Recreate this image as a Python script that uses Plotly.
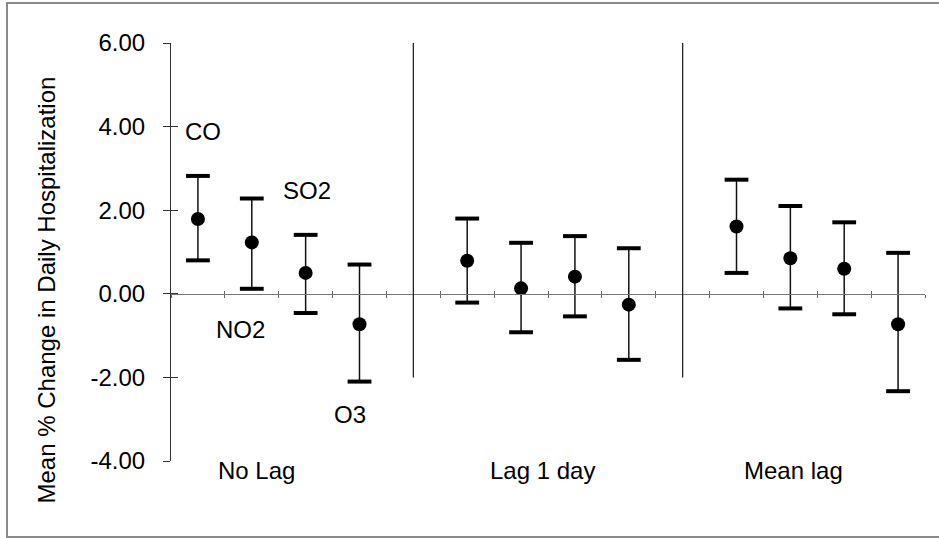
import plotly.graph_objects as go

# ---------------- data ----------------
groups = ["No Lag", "Lag 1 day", "Mean lag"]
pollutants = ["CO", "NO2", "SO2", "O3"]

mean_nolag = [1.79, 1.23, 0.50, -0.73]
upper_nolag = [2.82, 2.28, 1.41, 0.70]
lower_nolag = [0.80, 0.12, -0.46, -2.10]

mean_lag1 = [0.79, 0.13, 0.41, -0.26]
upper_lag1 = [1.80, 1.22, 1.38, 1.09]
lower_lag1 = [-0.21, -0.92, -0.54, -1.58]

mean_meanlag = [1.61, 0.85, 0.60, -0.73]
upper_meanlag = [2.73, 2.10, 1.71, 0.98]
lower_meanlag = [0.50, -0.35, -0.49, -2.33]

y_tickvals = [-4, -2, 0, 2, 4, 6]
y_ticktext = ["-4.00", "-2.00", "0.00", "2.00", "4.00", "6.00"]

# ---------------- layout helpers ----------------
W, H = 939, 538
ML, MR, MT, MB = 171, 14, 43, 77
PW, PH = W - ML - MR, H - MT - MB
YMIN, YMAX = -4, 6
XMIN, XMAX = 0, 14
slot = len(pollutants) + 1

x_pos = [g * slot + p + 0.5 for g in range(len(groups)) for p in range(len(pollutants))]
means = mean_nolag + mean_lag1 + mean_meanlag
uppers = upper_nolag + upper_lag1 + upper_meanlag
lowers = lower_nolag + lower_lag1 + lower_meanlag
dividers = [g * slot - 0.5 for g in range(1, len(groups))]


def px_to_paper_x(px):
    return (px - ML) / PW


def px_to_paper_y(py):
    return (H - MB - py) / PH


def data_to_paper_x(x):
    return (x - XMIN) / (XMAX - XMIN)


def data_to_paper_y(y):
    return (y - YMIN) / (YMAX - YMIN)


FONT = "Liberation Sans, Arial, Helvetica, sans-serif"
FS = 24

fig = go.Figure()

# error stems + dots
fig.add_trace(go.Scatter(
    x=x_pos, y=means, mode="markers",
    marker=dict(symbol="circle", size=14, color="black"),
    error_y=dict(type="data", symmetric=False,
                 array=[u - m for u, m in zip(uppers, means)],
                 arrayminus=[m - l for m, l in zip(means, lowers)],
                 thickness=1.5, width=0, color="#111111"),
    showlegend=False, hoverinfo="skip", cliponaxis=False,
))

# thick caps
fig.add_trace(go.Scatter(
    x=x_pos + x_pos, y=uppers + lowers, mode="markers",
    marker=dict(symbol="line-ew", size=17, line=dict(width=4, color="black")),
    showlegend=False, hoverinfo="skip", cliponaxis=False,
))

# overlay axis holder (for crossing ticks)
fig.add_trace(go.Scatter(x=[XMIN], y=[YMIN], xaxis="x2", yaxis="y2", mode="markers",
                         marker=dict(opacity=0), showlegend=False, hoverinfo="skip"))

zero_pos = (0 - YMIN) / (YMAX - YMIN)

axis_common_x = dict(range=[XMIN, XMAX], tick0=0, dtick=1, showgrid=False, zeroline=False,
                     showticklabels=False, tickcolor="#666666", tickwidth=1, ticklen=3,
                     anchor="free", position=zero_pos)
fig.update_layout(
    width=W, height=H,
    margin=dict(l=ML, r=MR, t=MT, b=MB),
    paper_bgcolor="white", plot_bgcolor="white",
    font=dict(family=FONT, color="black", size=FS),
    xaxis=dict(**axis_common_x, showline=True, linecolor="#777777", linewidth=1, ticks="outside"),
    xaxis2=dict(**axis_common_x, overlaying="x", showline=False, ticks="inside"),
    yaxis=dict(range=[YMIN, YMAX], tickvals=y_tickvals, ticktext=y_ticktext,
               showgrid=False, zeroline=False, showline=True, linecolor="#333333", linewidth=1,
               ticks="outside", ticklen=7, tickcolor="#333333", tickwidth=1,
               ticklabelstandoff=13, tickfont=dict(size=FS, family=FONT)),
    yaxis2=dict(range=[YMIN, YMAX], tickvals=y_tickvals, overlaying="y", side="left",
                showgrid=False, zeroline=False, showline=False, showticklabels=False,
                ticks="inside", ticklen=7, tickcolor="#333333", tickwidth=1),
)

# group dividers
for d in dividers:
    fig.add_shape(type="line", xref="x", yref="y", x0=d, x1=d, y0=-2, y1=YMAX,
                  line=dict(color="#222222", width=1.3))

# outer frame
fig.add_shape(type="rect", xref="paper", yref="paper",
              x0=px_to_paper_x(7), x1=px_to_paper_x(960),
              y0=px_to_paper_y(537), y1=px_to_paper_y(3),
              line=dict(color="#8a8a8a", width=2), layer="above")

# y title
fig.add_annotation(text="Mean % Change in Daily Hospitalization", textangle=-90,
                   xref="paper", yref="paper", x=px_to_paper_x(46), y=px_to_paper_y(290.5),
                   showarrow=False, font=dict(size=FS, family=FONT), xanchor="center", yanchor="middle")

# pollutant labels (No Lag group)
label_pos = {"CO": (0.59, 3.88), "NO2": (1.29, -0.85), "SO2": (2.52, 2.46), "O3": (3.33, -2.89)}
for name in pollutants:
    lx, ly = label_pos[name]
    fig.add_annotation(text=name, x=data_to_paper_x(lx), y=data_to_paper_y(ly),
                       xref="paper", yref="paper", showarrow=False,
                       font=dict(size=FS, family=FONT), xanchor="center", yanchor="middle")

# group labels
group_label_x = [1.58, 6.9, 11.56]
for g, gx in zip(groups, group_label_x):
    fig.add_annotation(text=g, x=data_to_paper_x(gx), y=data_to_paper_y(-4.22),
                       xref="paper", yref="paper", showarrow=False,
                       font=dict(size=FS, family=FONT), xanchor="center", yanchor="middle")

fig.write_html("out.html")
